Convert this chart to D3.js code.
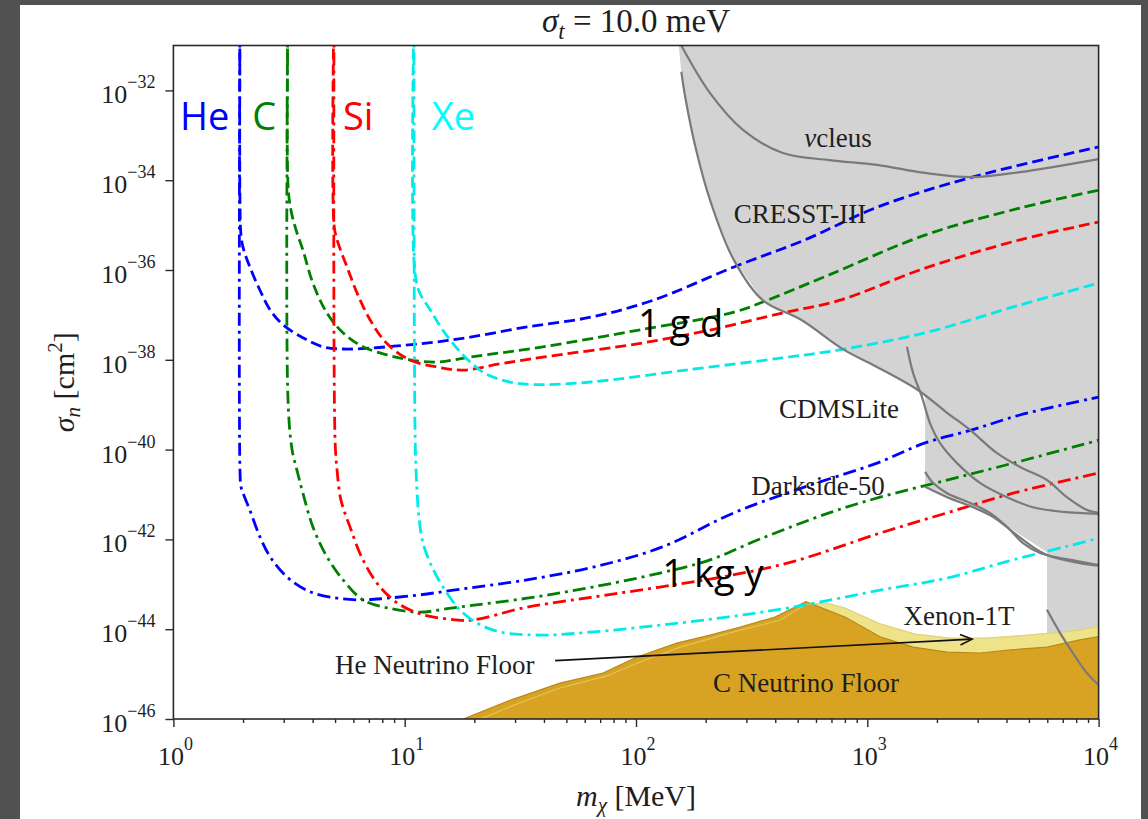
<!DOCTYPE html>
<html>
<head>
<meta charset="utf-8">
<script src="https://cdn.jsdelivr.net/npm/d3@7"></script>
<style>
  html, body { margin: 0; padding: 0; background: #515151; }
  svg { display: block; }
</style>
</head>
<body>
<svg id="chart" width="1148" height="819"></svg>
<script>
// ---- axis extents and ticks ----
const massDomain = [1, 1e4];            // m_chi [MeV]
const sigmaDomain = [1e-46, 1e-31];     // sigma_n [cm^2]
const massTickExps = [0, 1, 2, 3, 4];
const sigmaTickExps = [-46, -44, -42, -40, -38, -36, -34, -32];

// ---- projected reach, [mass MeV, sigma cm^2]; "Day" = 1 g d exposure, "Year" = 1 kg y ----
const heDay = [[1.94,1e-30],[1.94,3.6e-35],[1.96,6.0e-36],[2.0,3.2e-36],[2.14,1.17e-36],[2.37,3.5e-37],[2.62,1.29e-37],[2.98,6.0e-38],[3.63,3.1e-38],[4.43,1.95e-38],[5.41,1.74e-38],[7.08,1.82e-38],[9.84,2.1e-38],[13.8,2.5e-38],[19.2,3.2e-38],[33.8,5.4e-38],[63.8,8.9e-38],[118,2.1e-37],[265,1.17e-36],[538,4.7e-36],[1102,2.5e-35],[2838,1.17e-34],[1e4,5.5e-34]];
const cDay = [[3.13,1e-30],[3.13,7.8e-35],[3.22,2.2e-35],[3.39,7.8e-36],[3.63,2.8e-36],[4.01,5.1e-37],[4.61,1.1e-37],[5.41,4.0e-38],[6.60,1.95e-38],[8.38,1.29e-38],[10.5,1.0e-38],[13.8,8.9e-39],[19.2,1.15e-38],[39.6,1.95e-38],[103,4.6e-38],[265,1.15e-37],[368,2.1e-37],[684,7.8e-37],[1778,6.0e-36],[4570,2.4e-35],[1e4,6.0e-35]];
const siDay = [[4.95,1e-30],[4.95,1.0e-35],[5.10,4.7e-36],[5.63,1.17e-36],[6.22,3.1e-37],[7.08,7.8e-38],[8.38,2.3e-38],[10.5,1.0e-38],[13.8,6.9e-39],[17.9,5.9e-39],[25.8,8.1e-39],[39.6,1.15e-38],[103,2.3e-38],[209,4.6e-38],[428,1.1e-37],[755,2.1e-37],[1778,1.1e-36],[4570,4.7e-36],[1e4,1.17e-35]];
const xeDay = [[10.97,1e-30],[10.97,1.66e-36],[11.5,3.5e-37],[12.9,1.29e-37],[14.6,4.6e-38],[16.8,1.82e-38],[19.2,8.9e-39],[22.5,4.8e-39],[28.5,3.2e-39],[36.3,2.8e-39],[63.8,3.2e-39],[164,5.9e-39],[428,1.1e-38],[755,1.66e-38],[1778,4.0e-38],[4570,1.66e-37],[1e4,5.1e-37]];

const heYear = [[1.94,1e-30],[1.94,3.5e-41],[1.96,1.48e-41],[2.0,1.07e-41],[2.14,4.5e-42],[2.37,1.12e-42],[2.62,4.1e-43],[3.10,1.45e-43],[3.90,6.8e-44],[5.10,4.9e-44],[6.60,4.5e-44],[8.38,4.9e-44],[11.6,5.8e-44],[16.2,7.4e-44],[33.8,1.26e-43],[65.1,2.4e-43],[130,6.8e-43],[265,3.9e-42],[538,1.48e-41],[1102,5.0e-41],[1778,1.41e-40],[2838,2.75e-40],[4570,5.9e-40],[1e4,1.48e-39]];
const cYear = [[3.13,1e-30],[3.13,1.26e-39],[3.26,9.8e-41],[3.42,3.5e-41],[3.63,1.07e-41],[4.01,1.9e-42],[4.61,4.1e-43],[5.41,1.26e-43],[6.60,4.5e-44],[8.38,3.0e-44],[11.6,2.4e-44],[16.2,3.0e-44],[33.8,4.9e-44],[65.1,8.7e-44],[127,1.78e-43],[209,3.5e-43],[337,9.8e-43],[684,3.9e-42],[1135,8.7e-42],[2213,2.1e-41],[4270,5.0e-41],[1e4,1.62e-40]];
const siYear = [[4.95,1e-30],[5.0,1.62e-40],[5.10,3.5e-41],[5.30,7.6e-42],[5.80,1.9e-42],[6.60,3.5e-43],[7.82,8.7e-44],[9.55,3.5e-44],[12.0,2.1e-44],[15.2,1.7e-44],[19.2,1.58e-44],[33.8,3.1e-44],[65.1,5.2e-44],[127,8.7e-44],[247,1.52e-43],[477,3.2e-43],[1135,1.38e-42],[2213,3.9e-42],[4270,1.07e-41],[1e4,3.0e-41]];
const xeYear = [[10.97,1e-30],[11.1,1.62e-40],[11.3,1.26e-41],[11.5,3.5e-42],[12.0,8.3e-43],[13.3,2.1e-43],[15.2,6.5e-44],[17.3,2.7e-44],[20.5,1.38e-44],[25.8,8.7e-45],[39.6,7.4e-45],[65.1,8.7e-45],[127,1.23e-44],[247,1.86e-44],[477,3.1e-44],[1135,7.4e-44],[2213,1.38e-43],[4270,3.5e-43],[8300,8.3e-43],[1e4,1.07e-42]];

// ---- existing limits, [mass MeV, sigma cm^2] ----
const excludedRegion = [[153,1e-31],[1e4,1e-31],[1e4,1e-46],[5980,1e-46],[5980,5.2e-43],[5200,8.3e-43],[4270,1.62e-42],[3490,3.2e-42],[2864,5.2e-42],[2213,8.7e-42],[1778,1.48e-41],[1778,1.48e-39],[1660,2.1e-39],[1102,6.9e-39],[794,1.66e-38],[517,7.8e-38],[354,2.1e-37],[265,1.66e-36],[209,3.6e-35],[182,4.7e-34],[164,6.2e-33],[157,2.6e-32]];
const nucleusLimit = [[157,1e-31],[209,8.7e-33],[290,1.32e-33],[428,4.1e-34],[684,2.8e-34],[1102,2.2e-34],[1778,1.45e-34],[2838,1.17e-34],[4570,1.51e-34],[1e4,2.95e-34]];
const cresstLimit = [[157,2.6e-32],[164,6.2e-33],[182,4.7e-34],[209,3.6e-35],[265,1.66e-36],[354,2.1e-37],[517,7.8e-38],[794,1.66e-38],[1102,6.9e-39],[1660,2.1e-39],[2213,6.6e-40],[2780,2.75e-40],[3640,8.3e-41],[4570,4.1e-41],[5980,2.1e-41],[7290,8.7e-42],[8910,4.5e-42],[1e4,3.9e-42]];
const cdmsliteLimit = [[1485,1.95e-38],[1577,5.1e-39],[1724,1.48e-39],[1866,3.9e-40],[2061,1.41e-40],[2443,5.0e-41],[3070,1.82e-41],[4020,8.7e-42],[5200,5.2e-42],[7010,4.1e-42],[1e4,3.7e-42]];
const darksideLimit = [[1778,3.2e-41],[1923,1.82e-41],[2213,1.07e-41],[2780,6.5e-42],[3390,3.9e-42],[4020,1.9e-42],[4710,8.3e-43],[5580,5.0e-43],[8300,3.2e-43],[1e4,2.7e-43]];
const darksideLowLimit = [[1778,1.48e-41],[2213,8.7e-42],[2864,5.2e-42],[3490,3.2e-42],[4270,1.45e-42],[5050,7.5e-43],[5980,4.5e-43],[8300,2.95e-43],[1e4,2.6e-43]];
const xenon1tLimit = [[5980,2.7e-44],[6810,8.3e-45],[7740,2.95e-45],[8910,1.05e-45],[1e4,5.7e-46]];

// ---- neutrino floors ----
const cNeutrinoFloor = [[17.9,1e-46],[28.5,2.6e-46],[46.9,6.3e-46],[72.0,1.05e-45],[101,2.4e-45],[150,4.9e-45],[209,7.4e-45],[282,1.12e-44],[399,1.86e-44],[543,4.1e-44],[801,1.86e-44],[1135,6.8e-45],[1577,4.0e-45],[2213,3.1e-45],[3070,2.95e-45],[4270,3.5e-45],[5980,4.0e-45],[8300,5.8e-45],[1e4,6.8e-45]];
const heNeutrinoFloor = [[21.2,1e-46],[31.5,2.3e-46],[46.9,4.9e-46],[74.9,9.1e-46],[104,1.86e-45],[155,4.0e-45],[282,9.5e-45],[419,1.58e-44],[543,3.6e-44],[670,3.8e-44],[801,2.95e-44],[1135,1.32e-44],[1607,7.8e-45],[2279,6.3e-45],[3195,6.3e-45],[4529,7.1e-45],[6414,8.3e-45],[8300,9.5e-45],[1e4,1.17e-44]];
const floorArrow = [[44.7,2.0e-45],[2838,6.0e-45]];

// ---- drawing ----
const W = 1148, H = 819;
const frame = { left: 173.4, right: 1098.6, top: 45.5, bottom: 719 };
const SERIF = "'Liberation Serif', 'Times New Roman', serif";
const SANS = "'Open Sans', 'Noto Sans', sans-serif";
const INK = "#1e1e1e";

const svg = d3.select("#chart");
svg.append("rect").attr("width", W).attr("height", H).attr("fill", "#515151");
svg.append("rect").attr("x", 20).attr("y", 5).attr("width", 1121).attr("height", H - 5).attr("fill", "#ffffff");

const x = d3.scaleLog().domain(massDomain).range([frame.left, frame.right]);
const y = d3.scaleLog().domain(sigmaDomain).range([frame.bottom, frame.top]);

svg.append("defs").append("clipPath").attr("id", "plot-clip")
  .append("rect")
  .attr("x", frame.left).attr("y", frame.top)
  .attr("width", frame.right - frame.left).attr("height", frame.bottom - frame.top);

const plot = svg.append("g").attr("clip-path", "url(#plot-clip)");

const straight = d3.line().x(d => x(d[0])).y(d => y(d[1]));
const smooth = d3.line().x(d => x(d[0])).y(d => y(d[1])).curve(d3.curveCatmullRom.alpha(0.5));
const floorArea = d3.area().x(d => x(d[0])).y0(y(sigmaDomain[0])).y1(d => y(d[1]));

// excluded parameter space
plot.append("path").attr("d", straight(excludedRegion) + "Z").attr("fill", "#d3d3d3");

// neutrino floors
plot.append("path").attr("d", floorArea(heNeutrinoFloor))
  .attr("fill", "#efe38a").attr("stroke", "#d8c862").attr("stroke-width", 1);
plot.append("path").attr("d", floorArea(cNeutrinoFloor))
  .attr("fill", "#d8a322").attr("stroke", "#b98a18").attr("stroke-width", 1.2);
plot.append("path").attr("d", straight(heNeutrinoFloor))
  .attr("fill", "none").attr("stroke", "#e7d98a").attr("stroke-opacity", 0.6).attr("stroke-width", 1.2);

// projected sensitivity curves
const DASHED = "11,5", DASHDOT = "13,5,3,5";
const reach = [
  { pts: heDay, color: "#0000ff", dash: DASHED },
  { pts: cDay, color: "#008000", dash: DASHED },
  { pts: siDay, color: "#ff0000", dash: DASHED },
  { pts: xeDay, color: "#00eaea", dash: DASHED },
  { pts: heYear, color: "#0000ff", dash: DASHDOT },
  { pts: cYear, color: "#008000", dash: DASHDOT },
  { pts: siYear, color: "#ff0000", dash: DASHDOT },
  { pts: xeYear, color: "#00eaea", dash: DASHDOT }
];
plot.selectAll("path.reach").data(reach).join("path")
  .attr("class", "reach")
  .attr("d", d => smooth(d.pts))
  .attr("fill", "none")
  .attr("stroke", d => d.color)
  .attr("stroke-width", 2.8)
  .attr("stroke-dasharray", d => d.dash);

// experimental limits
const limits = [nucleusLimit, cresstLimit, cdmsliteLimit, darksideLimit, darksideLowLimit, xenon1tLimit];
plot.selectAll("path.limit").data(limits).join("path")
  .attr("class", "limit")
  .attr("d", d => smooth(d))
  .attr("fill", "none")
  .attr("stroke", "#7a7a7a")
  .attr("stroke-width", 2.2);

// arrow pointing to the He floor
{
  const [a, b] = floorArrow.map(d => [x(d[0]), y(d[1])]);
  plot.append("line")
    .attr("x1", a[0]).attr("y1", a[1]).attr("x2", b[0]).attr("y2", b[1])
    .attr("stroke", "#111").attr("stroke-width", 1.6);
  const ang = Math.atan2(b[1] - a[1], b[0] - a[0]);
  const len = 13, spread = 0.42;
  const p1 = [b[0] - len * Math.cos(ang - spread), b[1] - len * Math.sin(ang - spread)];
  const p2 = [b[0] - len * Math.cos(ang + spread), b[1] - len * Math.sin(ang + spread)];
  plot.append("path")
    .attr("d", `M${p1[0]},${p1[1]}L${b[0]},${b[1]}L${p2[0]},${p2[1]}`)
    .attr("fill", "none").attr("stroke", "#111").attr("stroke-width", 1.6);
}

// frame
svg.append("rect")
  .attr("x", frame.left).attr("y", frame.top)
  .attr("width", frame.right - frame.left).attr("height", frame.bottom - frame.top)
  .attr("fill", "none").attr("stroke", "#2a2a2a").attr("stroke-width", 1.6);

// axes
const massMajor = massTickExps.map(e => Math.pow(10, e));
const massMinor = [];
massTickExps.slice(0, -1).forEach(e => { for (let k = 2; k <= 9; k++) massMinor.push(k * Math.pow(10, e)); });
const sigmaMajor = sigmaTickExps.map(e => Math.pow(10, e));

function styleAxis(g) {
  g.select(".domain").remove();
  g.selectAll(".tick line").attr("stroke", "#2a2a2a").attr("stroke-width", 1.4);
}
svg.append("g").attr("transform", `translate(0,${frame.bottom})`)
  .call(d3.axisBottom(x).tickValues(massMajor).tickSize(8).tickFormat(() => ""))
  .call(styleAxis);
svg.append("g").attr("transform", `translate(0,${frame.bottom})`)
  .call(d3.axisBottom(x).tickValues(massMinor).tickSize(4).tickFormat(() => ""))
  .call(styleAxis);
svg.append("g").attr("transform", `translate(${frame.left},0)`)
  .call(d3.axisLeft(y).tickValues(sigmaMajor).tickSize(8).tickFormat(() => ""))
  .call(styleAxis);

function powerOfTen(text, exp) {
  text.append("tspan").text("10");
  text.append("tspan").attr("dy", -15).attr("font-size", 18)
    .text(exp < 0 ? "\u2212" + Math.abs(exp) : String(exp));
}
massTickExps.forEach(e => {
  const t = svg.append("text")
    .attr("x", x(Math.pow(10, e)) + 2).attr("y", frame.bottom + 46)
    .attr("text-anchor", "middle").attr("font-family", SERIF).attr("font-size", 26).attr("fill", INK);
  powerOfTen(t, e);
});
sigmaTickExps.forEach(e => {
  const t = svg.append("text")
    .attr("x", frame.left - 18).attr("y", y(Math.pow(10, e)) + 13)
    .attr("text-anchor", "end").attr("font-family", SERIF).attr("font-size", 26).attr("fill", INK);
  powerOfTen(t, e);
});

// axis titles
{
  const t = svg.append("text")
    .attr("x", (frame.left + frame.right) / 2).attr("y", 806)
    .attr("text-anchor", "middle").attr("font-family", SERIF).attr("font-size", 30).attr("fill", INK);
  t.append("tspan").attr("font-style", "italic").text("m");
  t.append("tspan").attr("font-style", "italic").attr("font-size", 21).attr("dy", 6).text("\u03c7");
  t.append("tspan").attr("dy", -6).text(" [MeV]");
}
{
  const t = svg.append("text")
    .attr("transform", `translate(74,${(frame.top + frame.bottom) / 2}) rotate(-90)`)
    .attr("text-anchor", "middle").attr("font-family", SERIF).attr("font-size", 30).attr("fill", INK);
  t.append("tspan").attr("font-style", "italic").text("\u03c3");
  t.append("tspan").attr("font-style", "italic").attr("font-size", 21).attr("dy", 6).text("n");
  t.append("tspan").attr("dy", -6).text(" [cm");
  t.append("tspan").attr("font-size", 21).attr("dy", -12).text("2");
  t.append("tspan").attr("dy", 12).text("]");
}
// title
{
  const t = svg.append("text")
    .attr("x", (frame.left + frame.right) / 2).attr("y", 32)
    .attr("text-anchor", "middle").attr("font-family", SERIF).attr("font-size", 33).attr("fill", INK);
  t.append("tspan").attr("font-style", "italic").text("\u03c3");
  t.append("tspan").attr("font-style", "italic").attr("font-size", 23).attr("dy", 7).text("t");
  t.append("tspan").attr("dy", -7).text(" = 10.0 meV");
}

// in-plot annotations
const serifNotes = [
  { text: "CRESST-III", at: [512, 1.12e-35], anchor: "middle" },
  { text: "CDMSLite", at: [755, 5.0e-40], anchor: "middle" },
  { text: "Darkside-50", at: [612, 9.8e-42], anchor: "middle" },
  { text: "Xenon-1T", at: [2492, 1.23e-44], anchor: "middle" },
  { text: "He Neutrino Floor", at: [5.0, 1.0e-45], anchor: "start" },
  { text: "C Neutrino Floor", at: [543, 4.0e-46], anchor: "middle" }
];
svg.selectAll("text.note").data(serifNotes).join("text")
  .attr("class", "note")
  .attr("x", d => x(d.at[0])).attr("y", d => y(d.at[1]))
  .attr("text-anchor", d => d.anchor)
  .attr("font-family", SERIF).attr("font-size", 27).attr("fill", INK)
  .text(d => d.text);
{
  // νcleus, with an italic nu as in math text
  const t = svg.append("text")
    .attr("x", x(747)).attr("y", y(5.5e-34))
    .attr("text-anchor", "middle").attr("font-family", SERIF).attr("font-size", 27).attr("fill", INK);
  t.append("tspan").attr("font-style", "italic").text("\u03bd");
  t.append("tspan").text("cleus");
}

const targetNotes = [
  { text: "He", at: [1.068, 1.3e-33], color: "#0000ff" },
  { text: "C", at: [2.19, 1.3e-33], color: "#008000" },
  { text: "Si", at: [5.41, 1.3e-33], color: "#ff0000" },
  { text: "Xe", at: [13.1, 1.3e-33], color: "#00ffff" },
  { text: "1 g d", at: [102, 3.2e-38], color: "#000000" },
  { text: "1 kg y", at: [130, 8.7e-44], color: "#000000" }
];
svg.selectAll("text.target").data(targetNotes).join("text")
  .attr("class", "target")
  .attr("x", d => x(d.at[0])).attr("y", d => y(d.at[1]))
  .attr("font-family", SANS).attr("font-size", 38).attr("fill", d => d.color)
  .text(d => d.text);
</script>
</body>
</html>
